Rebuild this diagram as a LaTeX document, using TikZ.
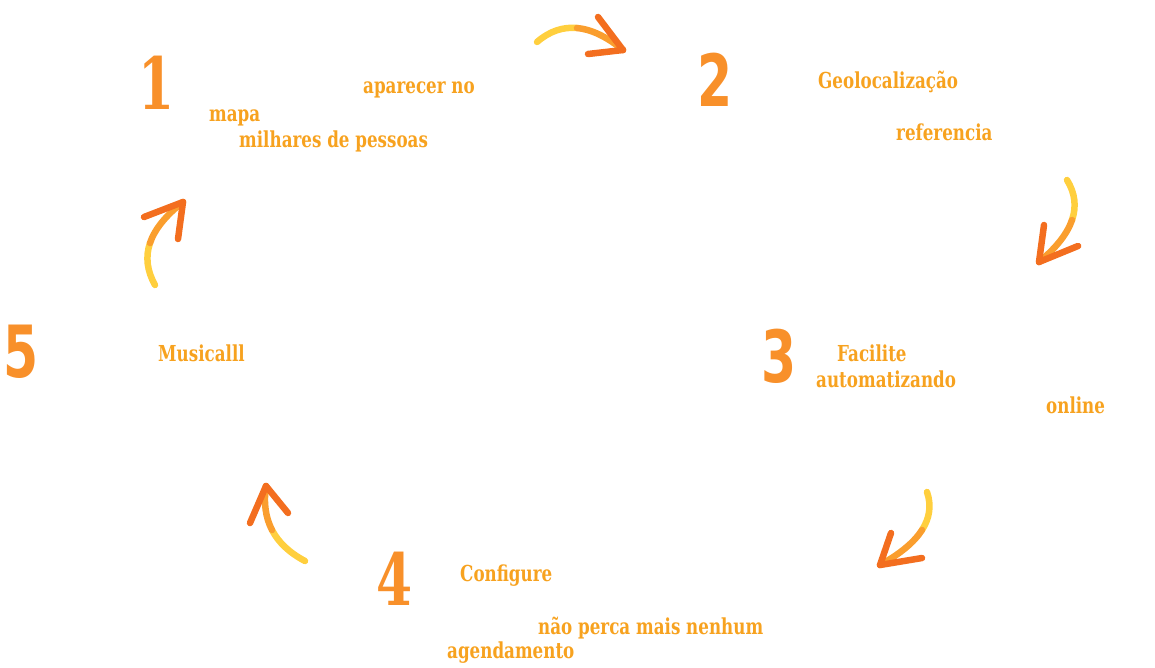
\documentclass[tikz,border=0pt]{standalone}
\usepackage{fontspec}
\newfontfamily\textefont{DejaVu Serif}[FakeStretch=0.76]
\newfontfamily\chiffrefont{DejaVu Serif}[FakeStretch=0.72]
\newfontfamily\chiffresans{DejaVu Sans}[FakeStretch=0.7]
\definecolor{orangetexte}{HTML}{F7A21F}
\definecolor{orangechiffre}{HTML}{F8902A}
\definecolor{jaune}{HTML}{FFCF3E}
\definecolor{orangemoyen}{HTML}{FA9E2E}
\definecolor{orangefonce}{HTML}{F36E1F}
\begin{document}
\begin{tikzpicture}[x=1pt,y=-1pt]
		\tikzstyle{chiffre}=[anchor=base west,inner sep=0pt,text=orangechiffre,font=\chiffrefont\bfseries\fontsize{72}{72}\selectfont]
		\tikzstyle{chiffresans}=[chiffre,font=\chiffresans\bfseries\fontsize{72}{72}\selectfont]
		\tikzstyle{texte}=[anchor=base west,inner sep=0pt,text=orangetexte,font=\textefont\bfseries\fontsize{22}{22}\selectfont]
		\tikzstyle{tige}=[line width=6.5pt,line cap=round]
		\tikzstyle{pointe}=[line width=6.5pt,line cap=round,orangefonce]
		\useasboundingbox (0,0) rectangle (1155,667);
		% etapes
		\node[chiffre] (N1) at (138,109) {1};
		\node[texte] (T1a) at (363,93) {aparecer no};
		\node[texte] (T1b) at (209,121) {mapa};
		\node[texte] (T1c) at (239,147) {milhares de pessoas};
		\node[chiffresans] (N2) at (697,106) {2};
		\node[texte] (T2a) at (818,88) {Geolocalização};
		\node[texte] (T2b) at (896,140) {referencia};
		\node[chiffresans] (N3) at (761,382) {3};
		\node[texte] (T3a) at (837,361) {Facilite};
		\node[texte] (T3b) at (816,387) {automatizando};
		\node[texte] (T3c) at (1046,413) {online};
		\node[chiffre] (N4) at (376,605) {4};
		\node[texte] (T4a) at (460,581) {Configure};
		\node[texte] (T4b) at (538,634) {não perca mais nenhum};
		\node[texte] (T4c) at (447,658) {agendamento};
		\node[chiffresans] (N5) at (3,377) {5};
		\node[texte] (T5a) at (158,361) {Musicalll};
		% fleches
		\coordinate (F1) at (537,42);
		\coordinate (F1m) at (577,28);
		\coordinate (F1p) at (623,50);
		\coordinate (F2) at (1067,180);
		\coordinate (F2m) at (1072,220);
		\coordinate (F2p) at (1039,262);
		\coordinate (F3) at (927,492);
		\coordinate (F3m) at (922,530);
		\coordinate (F3p) at (880,565);
		\coordinate (F4) at (305,561);
		\coordinate (F4m) at (272,530);
		\coordinate (F4p) at (266,486);
		\coordinate (F5) at (155,285);
		\coordinate (F5m) at (150,243);
		\coordinate (F5p) at (183,202);
		\draw[tige,jaune] (F1) .. controls (549.3,31.3) and (562.7,26.7) .. (F1m);
		\draw[tige,orangemoyen] (F1m) .. controls (591.3,29.3) and (606.7,36.7) .. (F1p);
		\draw[pointe] (F1p)--(598,17);
		\draw[pointe] (F1p)--(588,54);
		\draw[tige,jaune] (F2) .. controls (1075,193) and (1076.7,206.3) .. (F2m);
		\draw[tige,orangemoyen] (F2m) .. controls (1067.3,233.7) and (1056.3,247.7) .. (F2p);
		\draw[pointe] (F2p)--(1044,225);
		\draw[pointe] (F2p)--(1078,246);
		\draw[tige,jaune] (F3) .. controls (931.5,505.2) and (929.8,517.8) .. (F3m);
		\draw[tige,orangemoyen] (F3m) .. controls (914.2,542.2) and (900.2,553.8) .. (F3p);
		\draw[pointe] (F3p)--(891,533);
		\draw[pointe] (F3p)--(922,558);
		\draw[tige,jaune] (F4) .. controls (289.5,552.8) and (278.5,542.5) .. (F4m);
		\draw[tige,orangemoyen] (F4m) .. controls (265.5,517.5) and (263.5,502.8) .. (F4p);
		\draw[pointe] (F4p)--(250,523);
		\draw[pointe] (F4p)--(288,513);
		\draw[tige,jaune] (F5) .. controls (147,270.8) and (145.3,256.8) .. (F5m);
		\draw[tige,orangemoyen] (F5m) .. controls (154.7,229.2) and (165.7,215.5) .. (F5p);
		\draw[pointe] (F5p)--(144,217);
		\draw[pointe] (F5p)--(178,239);
	\end{tikzpicture}
\end{document}
